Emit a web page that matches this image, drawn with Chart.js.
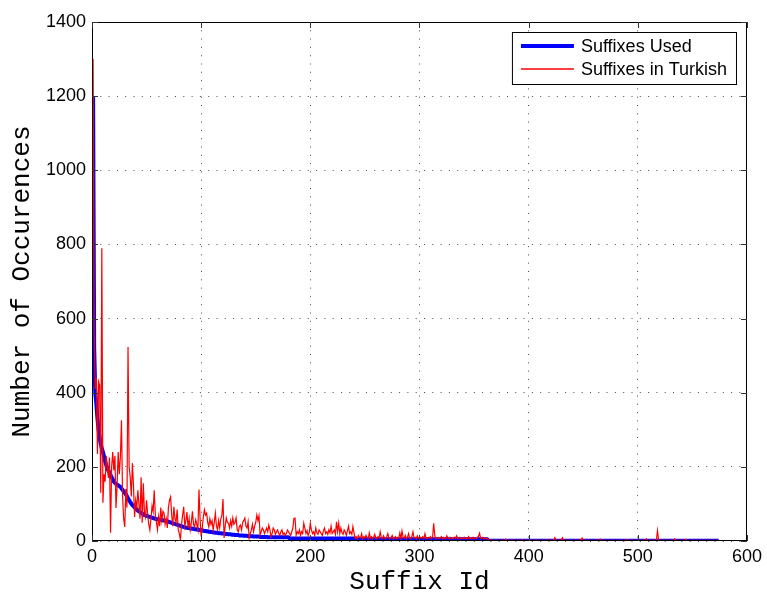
<!DOCTYPE html>
<html>
<head>
<meta charset="utf-8">
<title>Suffix occurrences</title>
<script src="https://cdn.jsdelivr.net/npm/chart.js@4.4.0/dist/chart.umd.min.js"></script>
<style>
  html, body { margin: 0; padding: 0; background: #fff; }
  #wrap { width: 767px; height: 598px; }
</style>
</head>
<body>
<div id="wrap"><canvas id="grafico"></canvas></div>
<script>
// number of occurrences per suffix id
// sorted counts - "Suffixes Used"
const usados = [
  1200, 520, 400, 370, 330, 300, 280, 262, 250, 240,   // 1-10
  228, 215, 205, 196, 190, 185, 178, 172, 166, 160,    // 11-20
  157, 154, 152, 150, 148, 146, 142, 138, 134, 130,    // 21-30
  126, 121, 115, 110, 105, 101, 97, 94, 91, 88,        // 31-40
  85, 82, 80, 78, 76, 74, 72, 70, 69, 68,              // 41-50
  67, 66, 65, 64, 63, 62, 61, 60, 59, 59,              // 51-60
  58, 57, 57, 56, 56, 55, 55, 54, 53, 52,              // 61-70
  51, 50, 49, 48, 47, 46, 45, 44, 43, 42,              // 71-80
  41, 40, 39, 38, 37, 36, 36, 35, 35, 34,              // 81-90
  34, 33, 33, 32, 32, 31, 31, 30, 30, 29,              // 91-100
  28, 28, 27, 27, 26, 26, 25, 25, 24, 24,              // 101-110
  23, 23, 22, 22, 22, 21, 21, 21, 20, 20,              // 111-120
  20, 19, 19, 19, 18, 18, 18, 17, 17, 17,              // 121-130
  16, 16, 16, 16, 15, 15, 15, 15, 14, 14,              // 131-140
  14, 14, 13, 13, 13, 13, 13, 12, 12, 12,              // 141-150
  12, 12, 12, 11, 11, 11, 11, 11, 11, 11,              // 151-160
  10, 10, 10, 10, 10, 10, 10, 10, 10, 10, 10, 10, 10, 10, 10, 10, 10, 10, 10, 10, // 161-180
  7, 7, 7, 7, 7, 7, 7, 7, 7, 7, 7, 7, 7, 7, 7, 7, 7, 7, 7, 7,   // 181-200
  7, 7, 7, 7, 7, 7, 7, 7, 7, 7, 7, 7, 7, 7, 7, 7, 7, 7, 7, 7,   // 201-220
  7, 7, 7, 7, 7, 7, 7, 7, 7, 7, 7, 7, 7, 7, 7, 7, 7, 7, 7, 7,   // 221-240
  5, 5, 5, 5, 5, 5, 5, 5, 5, 5, 5, 5, 5, 5, 5, 5, 5, 5, 5, 5,   // 241-260
  5, 5, 5, 5, 5, 5, 5, 5, 5, 5, 5, 5, 5, 5, 5, 5, 5, 5, 5, 5,   // 261-280
  5, 5, 5, 5, 5, 5, 5, 5, 5, 5, 5, 5, 5, 5, 5, 5, 5, 5, 5, 5,   // 281-300
  5, 5, 5, 5, 5, 5, 5, 5, 5, 5, 5, 5, 5, 5, 5, 5, 5, 5, 5, 5,   // 301-320
  5, 5, 5, 5, 5, 5, 5, 5, 5, 5, 5, 5, 5, 5, 5, 5, 5, 5, 5, 5,   // 321-340
  5, 5, 5, 5, 5, 5, 5, 5, 5, 5, 5, 5, 5, 5, 5, 5, 5, 5, 5, 5,   // 341-360
  5, 5,                                                         // 361-362
  1, 1, 1, 1, 1, 1, 1, 1, 1, 1, 1, 1, 1, 1, 1, 1, 1, 1, 1, 1,   // 363-382
  1, 1, 1, 1, 1, 1, 1, 1, 1, 1, 1, 1, 1, 1, 1, 1, 1, 1, 1, 1,   // 383-402
  1, 1, 1, 1, 1, 1, 1, 1, 1, 1, 1, 1, 1, 1, 1, 1, 1, 1, 1, 1,   // 403-422
  1, 1, 1, 1, 1, 1, 1, 1, 1, 1, 1, 1, 1, 1, 1, 1, 1, 1, 1, 1,   // 423-442
  1, 1, 1, 1, 1, 1, 1, 1, 1, 1, 1, 1, 1, 1, 1, 1, 1, 1, 1, 1,   // 443-462
  1, 1, 1, 1, 1, 1, 1, 1, 1, 1, 1, 1, 1, 1, 1, 1, 1, 1, 1, 1,   // 463-482
  1, 1, 1, 1, 1, 1, 1, 1, 1, 1, 1, 1, 1, 1, 1, 1, 1, 1, 1, 1,   // 483-502
  1, 1, 1, 1, 1, 1, 1, 1, 1, 1, 1, 1, 1, 1, 1, 1, 1, 1, 1, 1,   // 503-522
  1, 1, 1, 1, 1, 1, 1, 1, 1, 1, 1, 1, 1, 1, 1, 1, 1, 1, 1, 1,   // 523-542
  1, 1, 1, 1, 1, 1, 1, 1, 1, 1, 1, 1, 1, 1, 1, 1, 1, 1, 1, 1,   // 543-562
  1, 1, 1, 1, 1, 1, 1, 1, 1, 1, 1, 1                            // 563-574
];

// same suffix ids, counts in Turkish - "Suffixes in Turkish"
const turco = [
  1300, 560, 410, 440, 235, 430, 420, 130, 790, 103,   // 1-10
  180, 160, 230, 200, 170, 225, 22, 200, 240, 190,     // 11-20
  230, 89, 150, 240, 180, 227, 326, 120, 60, 38,       // 21-30
  140, 90, 523, 200, 172, 120, 210, 150, 65, 110,      // 31-40
  90, 137, 100, 60, 172, 49, 156, 80, 65, 110,         // 41-50
  70, 45, 30, 60, 95, 80, 137, 70, 50, 30,             // 51-60
  65, 40, 90, 55, 80, 75, 45, 60, 35, 90,              // 61-70
  110, 119, 70, 40, 92, 60, 50, 85, 30, 20,            // 71-80
  3, 45, 70, 92, 40, 55, 78, 35, 60, 30,               // 81-90
  50, 80, 45, 38, 57, 45, 30, 139, 60, 12,             // 91-100
  35, 65, 84, 70, 75, 50, 38, 60, 45, 55,              // 101-110
  30, 50, 75, 40, 30, 55, 35, 60, 70, 113,             // 111-120
  8, 40, 62, 50, 48, 35, 55, 40, 62, 45,               // 121-130
  50, 62, 30, 25, 40, 43, 30, 50, 55, 62,              // 131-140
  40, 35, 52, 8, 20, 30, 45, 25, 40, 50,               // 141-150
  70, 55, 68, 16, 25, 35, 30, 20, 28, 35,              // 151-160
  25, 43, 30, 12, 20, 35, 30, 18, 25, 30,              // 161-170
  21, 15, 25, 30, 18, 22, 15, 20, 30, 25,              // 171-180
  20, 15, 25, 35, 61, 62, 16, 25, 20, 30,              // 181-190
  15, 25, 20, 48, 35, 20, 28, 15, 22, 48,              // 191-200
  30, 20, 25, 15, 35, 22, 18, 30, 25, 20,              // 201-210
  15, 28, 35, 20, 25, 18, 30, 22, 40, 20,              // 211-220
  25, 30, 18, 52, 25, 48, 20, 35, 22, 18,              // 221-230
  30, 25, 15, 28, 40, 20, 25, 18, 39, 22,              // 231-240
  8, 12, 6, 15, 10, 8, 20, 6, 12, 8,                   // 241-250
  15, 10, 6, 22, 8, 12, 6, 10, 18, 8,                  // 251-260
  6, 12, 8, 25, 10, 6, 14, 8, 6, 12,                   // 261-270
  20, 8, 6, 10, 15, 6, 8, 12, 6, 10,                   // 271-280
  8, 22, 6, 27, 10, 8, 15, 6, 10, 20,                  // 281-290
  8, 6, 12, 25, 8, 10, 6, 14, 8, 6,                    // 291-300
  10, 8, 12, 6, 20, 8, 6, 10, 8, 12,                   // 301-310
  6, 10, 48, 15, 6, 8, 10, 6, 8, 12,                   // 311-320
  6, 10, 8, 6, 14, 8, 6, 10, 6, 8,                     // 321-330
  6, 10, 8, 14, 6, 8, 10, 6, 8, 6,                     // 331-340
  10, 6, 8, 6, 12, 6, 8, 6, 10, 6,                     // 341-350
  8, 6, 10, 12, 21, 8, 6, 10, 6, 8, 6, 8,              // 351-362
  3, 2, 2, 3, 2, 2, 2, 2, 2, 2, 2, 2, 2, 2, 2, 2, 5, 2, 2, 2,   // 363-382
  2, 2, 3, 2, 2, 2, 2, 2, 2, 2, 2, 3, 2, 2, 2, 2, 2, 2, 2, 2,   // 383-402
  2, 2, 2, 2, 3, 2, 2, 2, 2, 2, 2, 2, 2, 2, 2, 3, 2, 2, 2, 2,   // 403-422
  2, 9, 3, 2, 2, 2, 2, 3, 9, 2, 2, 2, 2, 2, 2, 2, 2, 2, 2, 2,   // 423-442
  2, 2, 2, 2, 3, 2, 8, 2, 2, 2, 2, 2, 2, 2, 2, 2, 2, 2, 2, 2,   // 443-462
  2, 2, 2, 5, 2, 2, 2, 2, 2, 2, 2, 2, 2, 2, 2, 2, 2, 2, 2, 2,   // 463-482
  2, 2, 2, 2, 2, 2, 2, 4, 2, 2, 2, 2, 2, 2, 2, 2, 2, 2, 2, 2,   // 483-502
  2, 2, 2, 2, 2, 6, 2, 2, 2, 2, 2, 2, 3, 2, 2, 28, 3, 2, 2, 2,  // 503-522
  2, 2, 2, 2, 2, 2, 2, 2, 2, 2, 2, 6, 2, 2, 2, 2, 2, 2, 2, 2,   // 523-542
  2, 4, 2, 2, 2, 2, 2, 2, 2, 2, 2, 2, 2, 2, 2, 2, 2, 2, 2, 2,   // 543-562
  2, 2, 2, 2, 2, 2, 2, 2, 2, 2, 2, 2                            // 563-574
];

const nomes = ['Suffixes Used', 'Suffixes in Turkish'];
const cores = ['#0000ff', '#ff0000'];
const xTicks = [0, 100, 200, 300, 400, 500, 600];
const yTicks = [0, 200, 400, 600, 800, 1000, 1200, 1400];

// suffix ids start at 1
function pontos(valores) {
  return valores.map((v, i) => ({ x: i + 1, y: v }));
}

// matlab-ish frame, inward ticks and boxed legend
const moldura = {
  id: 'moldura',
  afterDraw(chart) {
    const { ctx, chartArea: a, scales } = chart;
    ctx.save();
    ctx.strokeStyle = '#000';
    ctx.lineWidth = 1;
    ctx.setLineDash([]);
    ctx.strokeRect(a.left + 0.5, a.top + 0.5, a.right - a.left - 1, a.bottom - a.top - 1);

    ctx.strokeStyle = '#333';
    ctx.beginPath();
    xTicks.forEach(v => {
      const x = Math.round(scales.x.getPixelForValue(v)) + 0.5;
      ctx.moveTo(x, a.bottom); ctx.lineTo(x, a.bottom - 6);
      ctx.moveTo(x, a.top); ctx.lineTo(x, a.top + 6);
    });
    yTicks.forEach(v => {
      const y = Math.round(scales.y.getPixelForValue(v)) + 0.5;
      ctx.moveTo(a.left, y); ctx.lineTo(a.left + 6, y);
      ctx.moveTo(a.right, y); ctx.lineTo(a.right - 6, y);
    });
    ctx.stroke();

    // legend
    ctx.font = '18px "Liberation Sans", Arial, sans-serif';
    const larg = Math.max(...nomes.map(t => ctx.measureText(t).width));
    const dir = a.right - 10, topo = a.top + 10;
    const esq = dir - larg - 79;
    ctx.fillStyle = '#fff';
    ctx.fillRect(esq, topo, dir - esq, 53);
    ctx.strokeStyle = '#000';
    ctx.lineWidth = 1;
    ctx.strokeRect(esq + 0.5, topo + 0.5, dir - esq - 1, 52);
    nomes.forEach((nome, i) => {
      const y = topo + 14 + i * 23;
      ctx.strokeStyle = cores[i];
      ctx.lineWidth = i === 0 ? 4 : 1.3;
      ctx.beginPath();
      ctx.moveTo(esq + 9, y); ctx.lineTo(esq + 62, y);
      ctx.stroke();
      ctx.fillStyle = '#000';
      ctx.textAlign = 'left';
      ctx.textBaseline = 'middle';
      ctx.fillText(nome, esq + 69, y + 1);
    });
    ctx.restore();
  }
};

const fonteTicks = { family: '"Liberation Sans", Arial, sans-serif', size: 18 };
const fonteTitulo = { family: '"Liberation Mono", "Courier New", monospace', size: 26 };
const pontilhado = [1, 7.3];

const ctx = document.getElementById('grafico').getContext('2d');
const grafico = new Chart(ctx, {
  type: 'line',
  data: {
    datasets: [{
      label: nomes[0],
      data: pontos(usados),
      borderColor: cores[0],
      borderWidth: 4,
      borderJoinStyle: 'round',
      pointRadius: 0,
      tension: 0,
      order: 1
    }, {
      label: nomes[1],
      data: pontos(turco),
      borderColor: cores[1],
      borderWidth: 1.2,
      pointRadius: 0,
      tension: 0,
      order: 0
    }]
  },
  options: {
    responsive: true,
    maintainAspectRatio: false,
    animation: false,
    layout: { padding: { top: 22, right: 17, left: 0, bottom: 0 } },
    plugins: {
      legend: { display: false },
      tooltip: { enabled: false }
    },
    scales: {
      x: {
        type: 'linear',
        min: 0,
        max: 600,
        afterBuildTicks: s => { s.ticks = xTicks.map(v => ({ value: v })); },
        afterFit: s => { s.height = 57; },
        grid: { color: 'rgba(0,0,0,0.7)', drawTicks: false },
        border: { display: false, dash: pontilhado },
        ticks: { color: '#000', font: fonteTicks, padding: 5, maxRotation: 0, callback: v => String(v) },
        title: { display: true, text: 'Suffix Id', color: '#000', font: fonteTitulo, padding: { top: 0, bottom: 0 } }
      },
      y: {
        min: 0,
        max: 1400,
        afterBuildTicks: s => { s.ticks = yTicks.map(v => ({ value: v })); },
        afterFit: s => { s.width = 92; },
        grid: { color: 'rgba(0,0,0,0.7)', drawTicks: false },
        border: { display: false, dash: pontilhado },
        ticks: { color: '#000', font: fonteTicks, padding: 6, callback: v => String(v) },
        title: { display: true, text: 'Number of Occurences', color: '#000', font: fonteTitulo, padding: { top: 7, bottom: 0 } }
      }
    }
  },
  plugins: [moldura]
});
</script>
</body>
</html>
